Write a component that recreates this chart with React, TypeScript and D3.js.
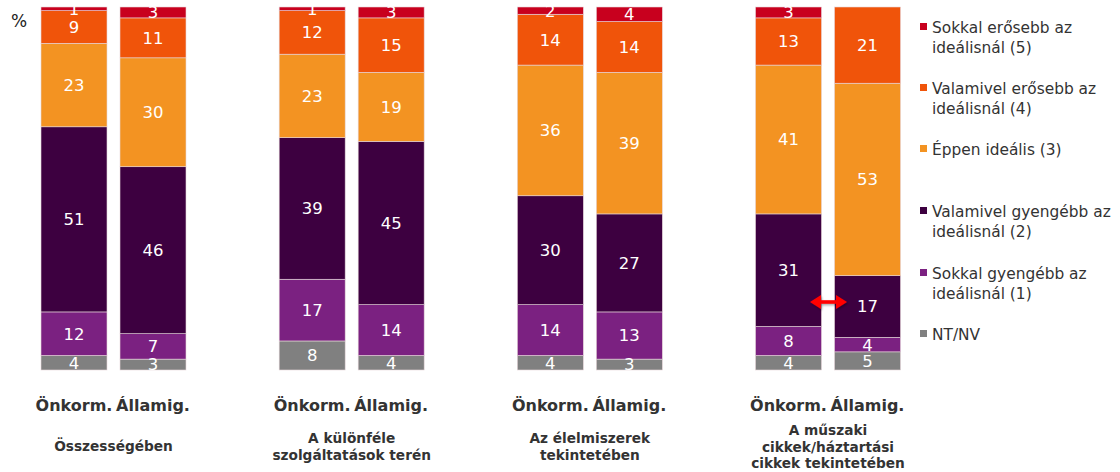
import React from "react";
import * as d3 from "d3";

const groups = [
  "Összességében",
  "A különféle szolgáltatások terén",
  "Az élelmiszerek tekintetében",
  "A műszaki cikkek/háztartási cikkek tekintetében",
];
const groupLines = [
  ["Összességében"],
  ["A különféle", "szolgáltatások terén"],
  ["Az élelmiszerek", "tekintetében"],
  ["A műszaki", "cikkek/háztartási", "cikkek tekintetében"],
];
const bars = ["Önkorm.", "Államig."];

// series from bottom to top
const seriesNames = [
  "NT/NV",
  "Sokkal gyengébb az ideálisnál (1)",
  "Valamivel gyengébb az ideálisnál (2)",
  "Éppen ideális (3)",
  "Valamivel erősebb az ideálisnál (4)",
  "Sokkal erősebb az ideálisnál (5)",
];
const seriesColors = ["#808080", "#7B2181", "#3D0040", "#F39322", "#F0540A", "#C8001E"];

// values per group: [Önkorm., Államig.]
const ntnv = [[4, 3], [8, 4], [4, 3], [4, 5]];
const sokkalGyengebb = [[12, 7], [17, 14], [14, 13], [8, 4]];
const valamivelGyengebb = [[51, 46], [39, 45], [30, 27], [31, 17]];
const eppenIdealis = [[23, 30], [23, 19], [36, 39], [41, 53]];
const valamivelErosebb = [[9, 11], [12, 15], [14, 14], [13, 21]];
const sokkalErosebb = [[1, 3], [1, 3], [2, 4], [3, 0]];

const seriesValues = [ntnv, sokkalGyengebb, valamivelGyengebb, eppenIdealis, valamivelErosebb, sokkalErosebb];

const legendOrder = [5, 4, 3, 2, 1, 0];
const legendLines = [
  ["Sokkal erősebb az", "ideálisnál (5)"],
  ["Valamivel erősebb az", "ideálisnál (4)"],
  ["Éppen ideális (3)"],
  ["Valamivel gyengébb az", "ideálisnál (2)"],
  ["Sokkal gyengébb az", "ideálisnál (1)"],
  ["NT/NV"],
];

const W = 1120;
const H = 472;
const FONT = "'DejaVu Sans', Verdana, sans-serif";

export default function App() {
  const xGroup = d3.scalePoint<string>().domain(groups).range([113.5, 828]);
  const xInner = d3.scaleBand<string>().domain(bars).range([-72.5, 72.5]).paddingInner(13 / 79).paddingOuter(0);
  const y = d3.scaleLinear().domain([0, 100]).range([370, 7]);

  const rects: React.ReactNode[] = [];
  const labels: React.ReactNode[] = [];
  groups.forEach((g, gi) => {
    bars.forEach((b, bi) => {
      const x0 = (xGroup(g) as number) + (xInner(b) as number);
      const bw = xInner.bandwidth();
      let cum = 0;
      seriesValues.forEach((sv, si) => {
        const v = sv[gi][bi];
        const y0 = y(cum);
        const y1 = y(cum + v);
        cum += v;
        if (v <= 0) return;
        rects.push(
          <rect key={`r-${gi}-${bi}-${si}`} x={x0} y={y1} width={bw} height={y0 - y1}
            fill={seriesColors[si]} stroke="#e6d6da" strokeWidth={0.6} />
        );
        labels.push(
          <text key={`t-${gi}-${bi}-${si}`} x={x0 + bw / 2} y={(y0 + y1) / 2} dy="0.36em"
            textAnchor="middle" fill="#ffffff" fontSize={16.5} fontFamily={FONT}>{v}</text>
        );
      });
    });
  });

  const legendY = [28, 89, 150, 212, 274, 335];

  const ax = 810, bx = 847, ay = 302;

  return (
    <svg width={W} height={H} style={{ position: "absolute", left: 0, top: 0 }}>
      <defs>
        <filter id="sh" x="-20%" y="-50%" width="150%" height="200%">
          <feDropShadow dx="1" dy="1.5" stdDeviation="1" floodColor="#000" floodOpacity="0.35" />
        </filter>
      </defs>
      <rect width={W} height={H} fill="#fff" />
      <text x={11} y={27} fontSize={17} fontFamily={FONT} fill="#222">%</text>
      {rects}
      {labels}
      {/* category labels */}
      {groups.map((g, gi) =>
        bars.map((b) => (
          <text key={`c-${gi}-${b}`} x={(xGroup(g) as number) + (xInner(b) as number) + xInner.bandwidth() / 2}
            y={411} textAnchor="middle" fontSize={16} fontWeight="bold" fontFamily={FONT} fill="#333">{b}</text>
        ))
      )}
      {groups.map((g, gi) => {
        const lines = groupLines[gi];
        const startY = lines.length === 1 ? 451 : lines.length === 2 ? 443 : 435;
        return (
          <text key={`g-${gi}`} textAnchor="middle" fontSize={13.7} fontWeight="bold" fontFamily={FONT} fill="#333">
            {lines.map((l, li) => (
              <tspan key={li} x={xGroup(g) as number} y={startY + li * 16.5}>{l}</tspan>
            ))}
          </text>
        );
      })}
      {/* legend */}
      {legendOrder.map((si, li) => (
        <g key={`l-${si}`}>
          <rect x={920} y={legendY[li] - 5} width={7} height={7} fill={seriesColors[si]} />
          <text fontSize={15.4} fontFamily={FONT} fill="#333">
            {legendLines[li].map((t, k) => (
              <tspan key={k} x={932} y={legendY[li] + 5 + k * 19.5}>{t}</tspan>
            ))}
          </text>
        </g>
      ))}
      {/* red double arrow */}
      <g filter="url(#sh)" fill="#FF0000">
        <rect x={ax + 9} y={ay - 1.8} width={bx - ax - 18} height={3.6} />
        <path d={`M${ax},${ay} L${ax + 11},${ay - 7} L${ax + 11},${ay + 7} Z`} />
        <path d={`M${bx},${ay} L${bx - 11},${ay - 7} L${bx - 11},${ay + 7} Z`} />
      </g>
    </svg>
  );
}
